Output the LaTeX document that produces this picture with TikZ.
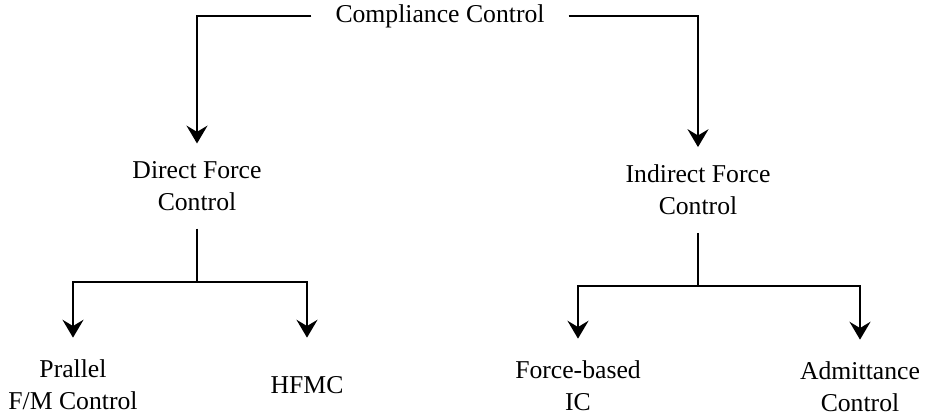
\documentclass[tikz,border=0pt]{standalone}
\usepackage{fontspec}
\setmainfont{Liberation Serif}
\usetikzlibrary{arrows.meta,positioning,calc}

\begin{document}
\begin{tikzpicture} [ % 先定义样式
    x=0.475pt, y=-0.475pt, line width=1pt,
    >={Stealth[length=8.5pt,width=10pt,inset=3pt]},
    font=\fontsize{12.2}{15.2}\selectfont,
    top/.style = {inner xsep=11pt, inner ysep=2pt},
    mid/.style = {align=center, inner xsep=2pt, inner ysep=8pt},
    leaf/.style = {align=center, minimum height=44pt, inner ysep=0pt}
  ]
  \useasboundingbox (0,0) rectangle (932,417);

  % 顶部
  \node [top] (cc) at (440,16) {Compliance Control};

  % 中间
  \node [mid] (dfc) at (197,186) {Direct Force\\Control};
  \node [mid] (ifc) at (698,190) {Indirect Force\\Control};

  % 底部
  \node [leaf] (pfm) at (73,385) {Prallel\\F/M Control};
  \node [leaf] (hfmc) at (307,385) {HFMC};
  \node [leaf] (fbic) at (578,386) {Force-based\\IC};
  \node [leaf] (adm) at (860,387) {Admittance\\Control};

  % 分支点
  \coordinate (dj) at (197,282);
  \coordinate (ij) at (698,286);

  % 连线
  \draw [->] (cc.west) -| (dfc.north);
  \draw [->] (cc.east) -| (ifc.north);

  \draw (dfc.south) -- (dj);
  \draw (ifc.south) -- (ij);

  \draw [->] (dj) -| (pfm.north);
  \draw [->] (dj) -| (hfmc.north);
  \draw [->] (ij) -| (fbic.north);
  \draw [->] (ij) -| (adm.north);

\end{tikzpicture}
\end{document}
